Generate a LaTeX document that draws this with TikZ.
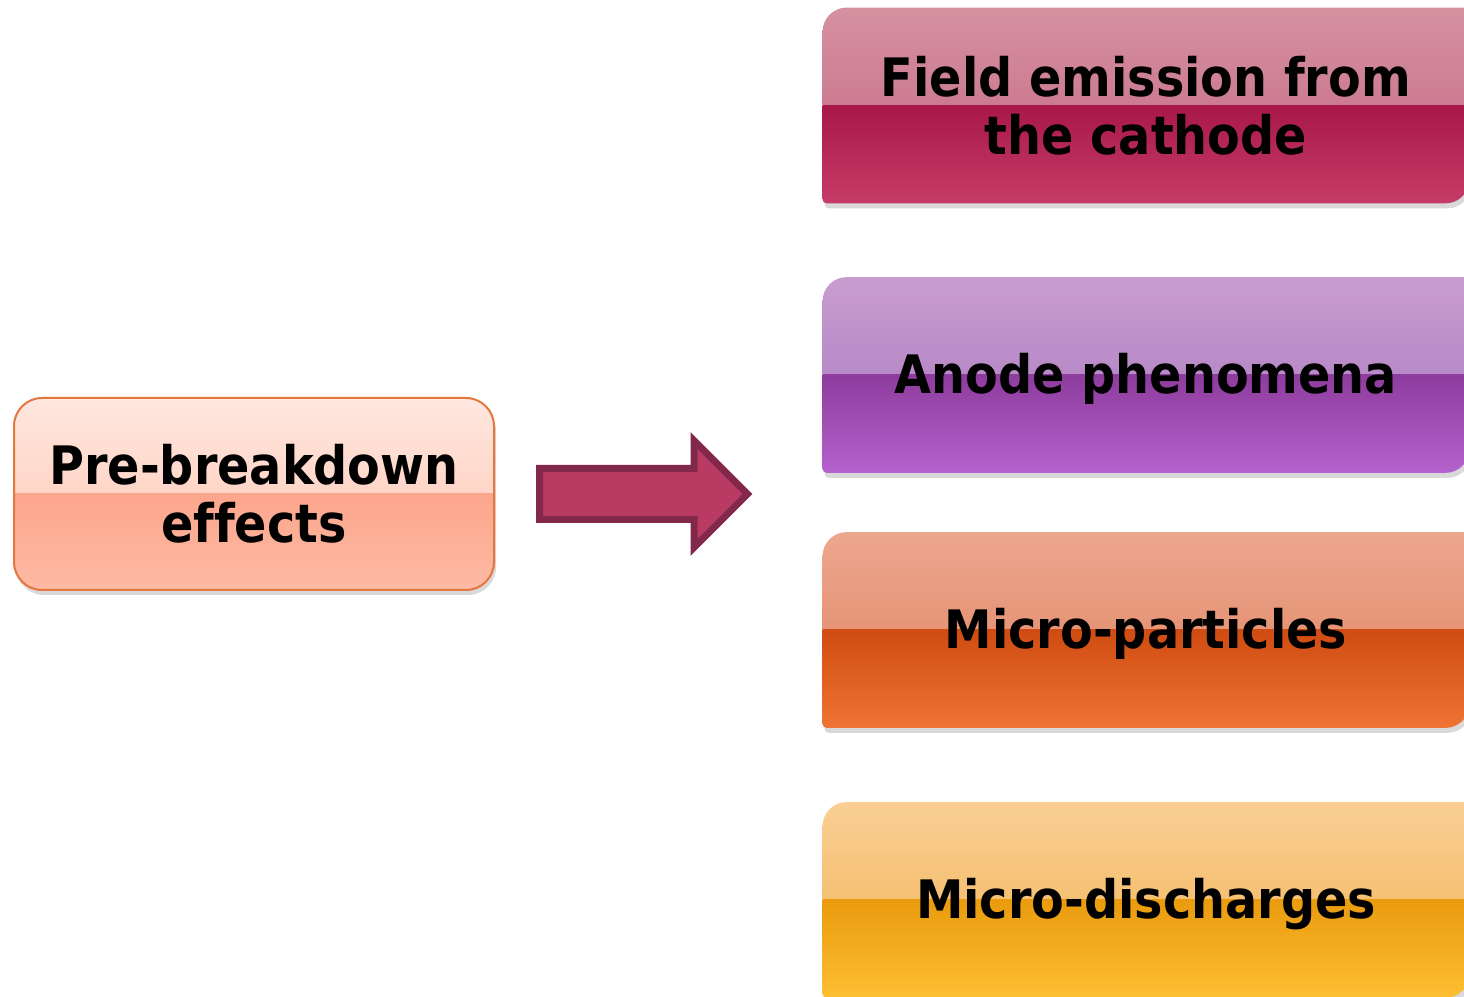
\documentclass[tikz,border=0pt]{standalone}
\usepackage{fontspec}
\newfontfamily\boxfont[FakeStretch=0.9, Ligatures=NoCommon]{DejaVu Sans}
\usetikzlibrary{positioning,shapes.arrows,backgrounds,shadows}

% colours: upper half top/bottom, lower half top/bottom
\definecolor{preA}{HTML}{FFE7DF}\definecolor{preB}{HTML}{FFC4B0}
\definecolor{preC}{HTML}{FCA68C}\definecolor{preD}{HTML}{FDBAA4}
\definecolor{preEdge}{HTML}{E4763F}
\definecolor{fieldA}{HTML}{D6919F}\definecolor{fieldB}{HTML}{C26584}
\definecolor{fieldC}{HTML}{A8184A}\definecolor{fieldD}{HTML}{C63C68}
\definecolor{anodeA}{HTML}{C99CD0}\definecolor{anodeB}{HTML}{A677BE}
\definecolor{anodeC}{HTML}{8E3C9E}\definecolor{anodeD}{HTML}{B662CE}
\definecolor{microA}{HTML}{ECA78F}\definecolor{microB}{HTML}{E0825E}
\definecolor{microC}{HTML}{D04C12}\definecolor{microD}{HTML}{F07434}
\definecolor{dischA}{HTML}{FACE94}\definecolor{dischB}{HTML}{F0B352}
\definecolor{dischC}{HTML}{EA9B0E}\definecolor{dischD}{HTML}{FDBF32}
\definecolor{arrowFill}{HTML}{B93B63}\definecolor{arrowEdge}{HTML}{82284A}

\tikzset{
  % rectangle with top-left and bottom-right corners rounded
  diagshape/.style={insert path={
    ([yshift=-12pt]#1.north west) arc[start angle=180,end angle=90,radius=12pt]
    -- (#1.north east) -- ([yshift=12pt]#1.south east)
    arc[start angle=0,end angle=-90,radius=12pt]
    -- ([xshift=2pt]#1.south west) arc[start angle=270,end angle=180,radius=2pt]
    -- cycle}},
  halves/.style n args={4}{path picture={
    \shade[sharp corners, top color=#1, bottom color=#2]
      (path picture bounding box.north west) rectangle (path picture bounding box.east);
    \shade[sharp corners, top color=#3, bottom color=#4]
      (path picture bounding box.west) rectangle (path picture bounding box.south east);}},
  softshadow/.style={drop shadow={opacity=.3, shadow xshift=1pt, shadow yshift=-2.5pt}}
}

\newcommand\glossy[5]{%
  \begin{scope}[on background layer]
    \path[diagshape=#1, softshadow, halves={#2}{#3}{#4}{#5}];
  \end{scope}}
% one line of text, set a little below the middle
\newcommand\low[1]{\raisebox{-2pt}[\height][\depth]{#1}}

\begin{document}
\begin{tikzpicture}[
  txt/.style={font=\boxfont\bfseries\fontsize{26.5}{29}\selectfont, align=center, text=black},
  prebox/.style={
    txt,
    draw=preEdge,
    line width=1pt,
    rounded corners=14pt,
    minimum width=240pt,
    minimum height=96pt,
    softshadow,
    halves={preA}{preB}{preC}{preD}
  },
  effect/.style={txt, minimum width=323pt, minimum height=97.5pt},
  bigarrow/.style={
    single arrow,
    fill=arrowFill,
    draw=arrowEdge,
    line width=3.5pt,
    inner xsep=0pt,
    inner ysep=11pt,
    minimum height=104pt,
    minimum width=50pt,
    single arrow head extend=14pt,
    single arrow head indent=0pt
  }
]
\useasboundingbox (0,0) rectangle (732pt,498.5pt);

\node[prebox] (pre) at (127pt,251.5pt) {Pre-breakdown\\effects};
\node[bigarrow, right=20.5pt of pre] (arr) {};

\node[effect] (field) at (573pt,445.75pt) {Field emission from\\the cathode};
\node[effect] (anode) at (573pt,311pt) {\low{Anode phenomena}};
\node[effect] (micro) at (573pt,183.5pt) {\low{Micro-particles}};
\node[effect] (disch) at (573pt,48.5pt) {\low{Micro-discharges}};

\glossy{field}{fieldA}{fieldB}{fieldC}{fieldD}
\glossy{anode}{anodeA}{anodeB}{anodeC}{anodeD}
\glossy{micro}{microA}{microB}{microC}{microD}
\glossy{disch}{dischA}{dischB}{dischC}{dischD}

\end{tikzpicture}
\end{document}
